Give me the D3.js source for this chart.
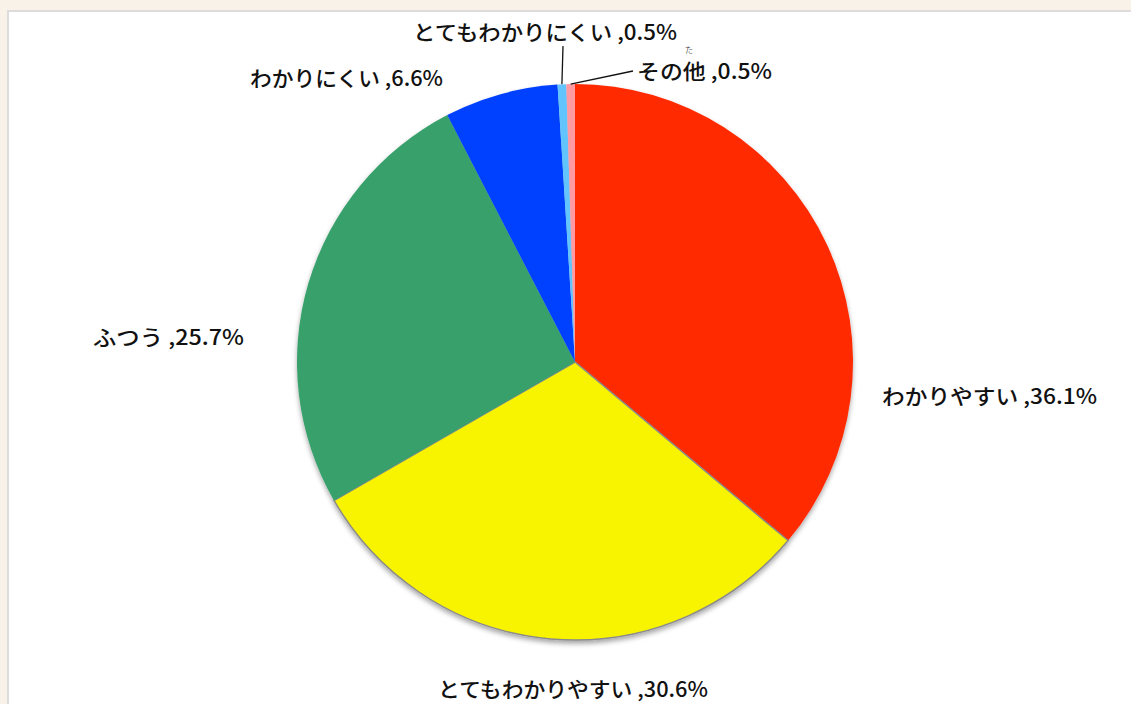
<!DOCTYPE html>
<html>
<head>
<meta charset="utf-8">
<script src="https://cdn.jsdelivr.net/npm/d3@7"></script>
<style>
  html, body { margin: 0; padding: 0; background: #f9f2e8; }
  svg { display: block; }
  text { font-family: "Noto Sans CJK JP", "Noto Sans", sans-serif; fill: #111; }
</style>
</head>
<body>
<svg id="chart" width="1131" height="704"></svg>
<script>
// ---- data ----
const categories = ["わかりやすい", "とてもわかりやすい", "ふつう", "わかりにくい", "とてもわかりにくい", "その他"];
const values = [36.1, 30.6, 25.7, 6.6, 0.5, 0.5];
const valueLabels = ["36.1%", "30.6%", "25.7%", "6.6%", "0.5%", "0.5%"];
const colors = ["#ff2a00", "#f8f400", "#38a06b", "#0040ff", "#62c4ff", "#ff9aa2"];

// ---- layout (label placement relative to pie centre) ----
const W = 1131, H = 704;
const cx = 575, cy = 362, R = 278;
// [dx of text start, dy of baseline, text width]
const labelLayout = [
  [307, 42, 215],
  [-137, 335, 270],
  [-482, -17, 151],
  [-325, -276, 193],
  [-162, -322, 264],
  [62, -283, 135]
];
// leader line end points (relative to centre) for the tiny slices
const leaderEnds = { 4: [-12, -316], 5: [58, -291] };

const svg = d3.select("#chart");

// frame
svg.append("rect").attr("x", 7).attr("y", 10).attr("width", W - 7).attr("height", H - 10).attr("fill", "#dcdcdc");
svg.append("rect").attr("x", 9).attr("y", 12).attr("width", W - 9).attr("height", H - 12).attr("fill", "#ffffff");

const defs = svg.append("defs");
const f = defs.append("filter").attr("id", "shadow").attr("x", "-10%").attr("y", "-10%").attr("width", "120%").attr("height", "125%");
f.append("feDropShadow").attr("dx", 0).attr("dy", 3).attr("stdDeviation", 2.5)
  .attr("flood-color", "#000").attr("flood-opacity", 0.35);

const data = categories.map((c, i) => ({ cat: c, value: values[i], label: valueLabels[i], color: colors[i], i }));

const pie = d3.pie().sort(null).value(d => d.value).startAngle(0).endAngle(2 * Math.PI);
const arcs = pie(data);
const arc = d3.arc().innerRadius(0).outerRadius(R);

const g = svg.append("g").attr("transform", `translate(${cx},${cy})`);
const pieG = g.append("g").attr("filter", "url(#shadow)");

pieG.selectAll("path")
  .data(arcs)
  .join("path")
  .attr("d", arc)
  .attr("fill", d => d.data.color)
  .attr("stroke", d => d.data.i === 1 ? "#8a8a8a" : "none")
  .attr("stroke-width", 1.5);

// leader lines
Object.keys(leaderEnds).forEach(k => {
  const a = arcs[+k];
  const mid = (a.startAngle + a.endAngle) / 2;
  const x1 = R * Math.sin(mid), y1 = -R * Math.cos(mid);
  const [x2, y2] = leaderEnds[k];
  g.append("line").attr("x1", x1).attr("y1", y1).attr("x2", x2).attr("y2", y2)
    .attr("stroke", "#111").attr("stroke-width", 1.3);
});

// labels
arcs.forEach((a, i) => {
  const [dx, dy, w] = labelLayout[i];
  g.append("text")
    .attr("x", dx).attr("y", dy)
    .attr("font-size", 21)
    .attr("font-weight", 500)
    .attr("textLength", w)
    .attr("lengthAdjust", "spacingAndGlyphs")
    .text(`${a.data.cat} ,${a.data.label}`);
});

// furigana for 他
g.append("text")
  .attr("x", 114).attr("y", -309)
  .attr("text-anchor", "middle")
  .attr("font-size", 8)
  .style("fill", "#555")
  .text("た");
</script>
</body>
</html>
